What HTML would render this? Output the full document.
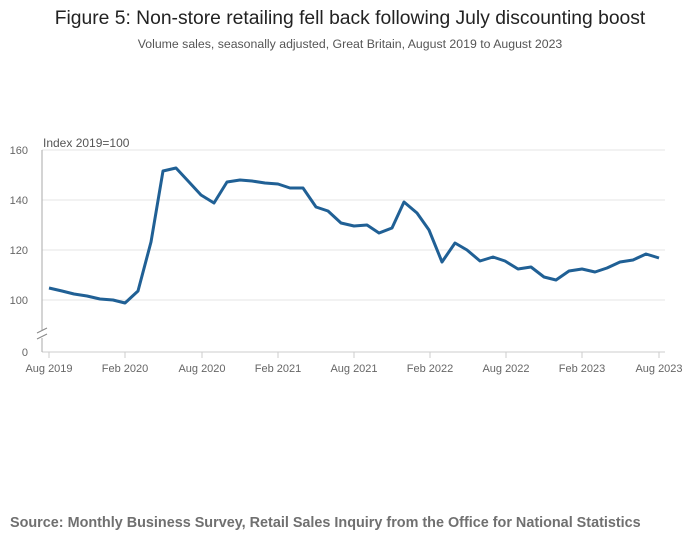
<!DOCTYPE html>
<html><head><meta charset="utf-8"><style>
body{margin:0;background:#fff;width:700px;height:549px;overflow:hidden;font-family:"Liberation Sans",sans-serif}
</style></head><body>
<svg width="700" height="549" xmlns="http://www.w3.org/2000/svg" font-family="Liberation Sans, sans-serif">
<text x="350" y="24" text-anchor="middle" font-size="19.3" fill="#222">Figure 5: Non-store retailing fell back following July discounting boost</text>
<text x="350" y="48" text-anchor="middle" font-size="12.3" fill="#555">Volume sales, seasonally adjusted, Great Britain, August 2019 to August 2023</text>
<g stroke="#e6e6e6" stroke-width="1">
<line x1="42" y1="150" x2="665" y2="150"/><line x1="42" y1="200" x2="665" y2="200"/>
<line x1="42" y1="250" x2="665" y2="250"/><line x1="42" y1="300" x2="665" y2="300"/>
</g>
<line x1="42" y1="352" x2="665" y2="352" stroke="#ccc"/>
<line x1="42" y1="150" x2="42" y2="330" stroke="#aaa"/>
<line x1="42" y1="338" x2="42" y2="352" stroke="#aaa"/>
<path d="M37 333 L47 328 M37 339 L47 334" stroke="#888" fill="none"/>
<text x="43" y="147" font-size="12" fill="#555">Index 2019=100</text>
<g font-size="11" fill="#666" text-anchor="end">
<text x="28" y="154">160</text><text x="28" y="204">140</text><text x="28" y="254">120</text><text x="28" y="304">100</text><text x="28" y="356">0</text>
</g>
<g stroke="#ccc"><line x1="49" y1="352" x2="49" y2="358"/><line x1="125" y1="352" x2="125" y2="358"/><line x1="202" y1="352" x2="202" y2="358"/><line x1="278" y1="352" x2="278" y2="358"/><line x1="354" y1="352" x2="354" y2="358"/><line x1="430" y1="352" x2="430" y2="358"/><line x1="506" y1="352" x2="506" y2="358"/><line x1="582" y1="352" x2="582" y2="358"/><line x1="659" y1="352" x2="659" y2="358"/></g>
<g font-size="11" fill="#666" text-anchor="middle">
<text x="49" y="372">Aug 2019</text><text x="125" y="372">Feb 2020</text><text x="202" y="372">Aug 2020</text><text x="278" y="372">Feb 2021</text><text x="354" y="372">Aug 2021</text><text x="430" y="372">Feb 2022</text><text x="506" y="372">Aug 2022</text><text x="582" y="372">Feb 2023</text><text x="659" y="372">Aug 2023</text>
</g>
<polyline fill="none" stroke="#206095" stroke-width="3" stroke-linejoin="round" points="49,288 62,291 74,294 87,296 100,299 113,300 125,303 138,291 151,242 163,171 176,168 189,182 201,195 214,203 227,182 240,180 252,181 265,183 278,184 290,188 303,188 316,207 328,211 341,223 354,226 367,225 379,233 392,228 404,202 417,213 429,230 442,262 455,243 467,250 480,261 493,257 505,261 518,269 531,267 544,277 556,280 569,271 582,269 595,272 607,268 620,262 633,260 646,254 659,258"/>
<text x="10" y="527" font-size="14.4" font-weight="bold" fill="#707070">Source: Monthly Business Survey, Retail Sales Inquiry from the Office for National Statistics</text>
</svg>
</body></html>
